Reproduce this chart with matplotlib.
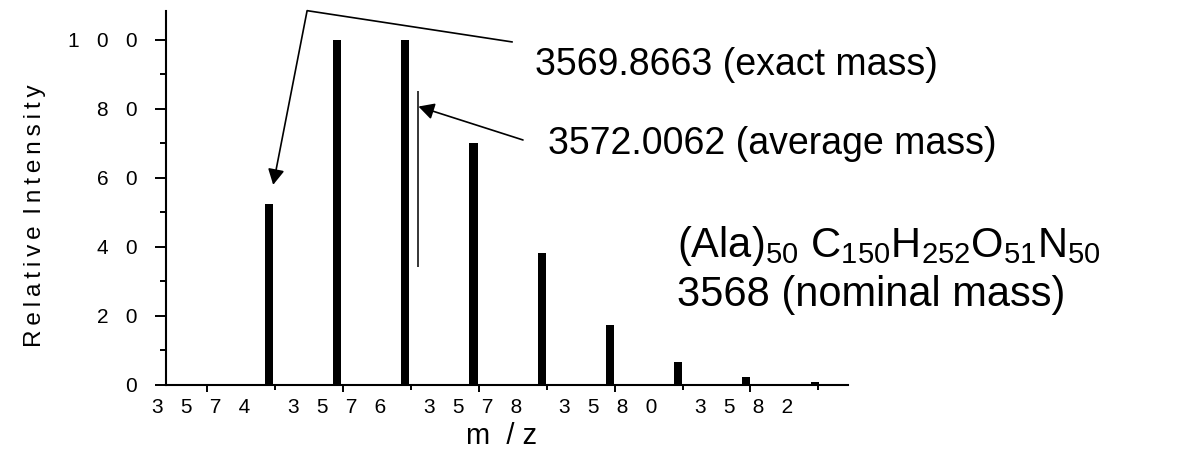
import matplotlib
matplotlib.use('Agg')
import matplotlib.pyplot as plt
from matplotlib.ticker import MultipleLocator
import matplotlib.transforms as mtransforms

# ---------------- data ----------------
mz = [3574.91, 3575.91, 3576.915, 3577.92, 3578.925, 3579.93, 3580.935, 3581.94, 3582.945]
intensity = [52.3, 99.8, 100.0, 70.0, 38.1, 17.2, 6.6, 2.2, 0.7]
avg_marker_mz = 3577.10
avg_marker_low, avg_marker_high = 34.2, 85.2
xtick_values = [3574, 3576, 3578, 3580, 3582]
xtick_labels = ['3574', '3576', '3578', '3580', '3582']
ytick_values = [0, 20, 40, 60, 80, 100]
ytick_labels = ['0', '20', '40', '60', '80', '100']
xlabel_text = 'm  / z'
ylabel_text = 'Relative Intensity'
exact_label = '3569.8663 (exact mass)'
average_label = '3572.0062 (average mass)'
formula_label = r'(Ala)$_{50}$ C$_{150}$H$_{252}$O$_{51}$N$_{50}$'
nominal_label = '3568 (nominal mass)'

# ---------------- style ----------------
plt.rcParams['font.family'] = ['Liberation Sans', 'DejaVu Sans']
plt.rcParams['mathtext.fontset'] = 'custom'
plt.rcParams['mathtext.rm'] = 'Liberation Sans'
plt.rcParams['mathtext.it'] = 'Liberation Sans:italic'
plt.rcParams['mathtext.bf'] = 'Liberation Sans:bold'
plt.rcParams['mathtext.default'] = 'regular'

THIN = '\u2009'


def spaced(s, sep='   '):
    return sep.join(s)


W, H = 1184, 451
fig = plt.figure(figsize=(W / 100, H / 100), dpi=100)
ax_left, ax_right, ax_top, ax_bottom = 166.3, 848.0, 11.0, 384.5
ax = fig.add_axes([ax_left / W, 1 - ax_bottom / H,
                   (ax_right - ax_left) / W, (ax_bottom - ax_top) / H])

ax.bar(mz, intensity, width=0.12, color='black', zorder=2)
ax.vlines(avg_marker_mz, avg_marker_low, avg_marker_high, color='black', lw=1.1)

ax.set_xlim(3573.396, 3583.437)
ax.set_ylim(0, 108.3)

for s in ('top', 'right'):
    ax.spines[s].set_visible(False)
for s in ('left', 'bottom'):
    ax.spines[s].set_linewidth(1.5)
    ax.spines[s].set_zorder(3)

ax.set_xticks(xtick_values, [spaced(t) for t in xtick_labels])
ax.xaxis.set_minor_locator(MultipleLocator(1))
ax.set_yticks(ytick_values, [spaced(t) for t in ytick_labels])
ax.yaxis.set_minor_locator(MultipleLocator(10))

ax.tick_params(axis='x', which='major', direction='out', length=5, width=1.4,
               pad=4.5, labelsize=15)
ax.tick_params(axis='x', which='minor', direction='out', length=3.3, width=1.4)
ax.tick_params(axis='y', which='major', direction='out', length=8, width=1.4,
               pad=13, labelsize=15)
ax.tick_params(axis='y', which='minor', direction='out', length=4.5, width=1.4)

offset = mtransforms.ScaledTranslation(-0.06, 0, fig.dpi_scale_trans)
for lbl in ax.get_xticklabels():
    lbl.set_transform(lbl.get_transform() + offset)

# axis labels
fig.text(502 / W, 1.0 / H, xlabel_text, fontsize=21, ha='center', va='bottom')
words = ylabel_text.split(' ')
ylab = (' ' + THIN).join(THIN.join(w) for w in words)
fig.text(35 / W, 1 - 215.5 / H, ylab, fontsize=17.5, rotation=90,
         ha='center', va='center')

# annotations
arrow_style = '-|>,head_length=0.47,head_width=0.25'
ax.plot([3578.50, 3575.47], [99.3, 108.4], color='black', lw=1.2, clip_on=False,
        solid_capstyle='butt')
ax.annotate('', xy=(3574.97, 57.9), xytext=(3575.47, 108.4),
            arrowprops=dict(arrowstyle=arrow_style, mutation_scale=20, lw=1.2,
                            color='black', shrinkA=0, shrinkB=0),
            annotation_clip=False)
ax.annotate('', xy=(avg_marker_mz + 0.01, 80.6), xytext=(3578.65, 70.9),
            arrowprops=dict(arrowstyle=arrow_style, mutation_scale=20, lw=1.2,
                            color='black', shrinkA=0, shrinkB=0),
            annotation_clip=False)

fig.text(535 / W, 1 - 75 / H, exact_label, fontsize=27,
         ha='left', va='baseline')
fig.text(548.3 / W, 1 - 154 / H, average_label, fontsize=27,
         ha='left', va='baseline')
fig.text(676.7 / W, 1 - 256.7 / H, formula_label, fontsize=30,
         ha='left', va='baseline')
fig.text(676.7 / W, 1 - 306 / H, nominal_label, fontsize=30,
         ha='left', va='baseline')

fig.savefig('out.png', dpi=100)
